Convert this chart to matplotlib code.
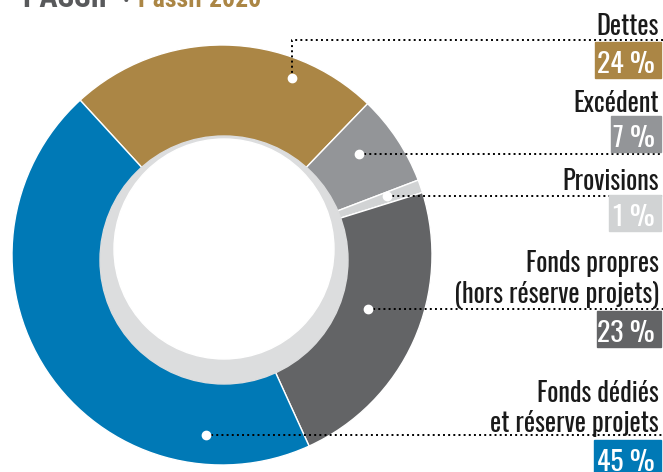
import matplotlib
matplotlib.use('Agg')
import matplotlib.pyplot as plt
from matplotlib.patches import Circle, Rectangle

# Data (Passif 2020)
categories = ['Dettes', 'Excédent', 'Provisions',
              'Fonds propres\n(hors réserve projets)',
              'Fonds dédiés\net réserve projets']
shares = [24, 7, 1, 23, 45]
colors = ['#AB8645', '#939598', '#D1D3D4', '#636466', '#0079B6']

W, H = 663, 472
FONT = ['Oswald', 'Roboto Condensed', 'DejaVu Sans']
TITLE_FONT = ['Roboto Condensed', 'Oswald', 'DejaVu Sans']


def fy(y):
    # image row (from top) -> data y (from bottom)
    return H - y


fig = plt.figure(figsize=(W / 100, H / 100), dpi=100)
ax = fig.add_axes([0, 0, 1, 1])

# Donut
cx, cy, R = 222, 255, 210
ax.pie(shares, colors=colors, center=(cx, fy(cy)), radius=R, startangle=132.5,
       counterclock=False, wedgeprops=dict(width=96, edgecolor='white', linewidth=1))

# Inner light grey ring and white hole (slightly offset, like the original)
ax.add_patch(Circle((224, fy(260)), 124, color='#DCDDDE', zorder=3))
ax.add_patch(Circle((224, fy(249)), 110, color='white', zorder=4))

# Leader dots (in the wedges) and the row of each label on the right
dot_xy = [(292, 78), (359, 154), (387, 196), (368, 309), (206, 435)]
line_y = [40, 154, 196, 309, 435]
for (dx, dy), ly in zip(dot_xy, line_y):
    ax.plot([dx, dx, W], [fy(dy), fy(ly), fy(ly)], color='black', linestyle=':',
            linewidth=1.4, zorder=5)
    ax.plot(dx, fy(dy), 'o', color='white', markersize=6, zorder=6)

# Category names (baseline of each line) and percentage boxes
name_base = [[35], [112], [190], [272, 303], [402, 432]]
box_top = [42, 116, 195, 311, 440]
box_left = [595, 611, 609, 597, 594]
box_h = 36
for name, share, col, bases, top, left in zip(categories, shares, colors,
                                              name_base, box_top, box_left):
    for line, b in zip(name.split('\n'), bases):
        ax.text(659, fy(b), line, ha='right', va='baseline', fontsize=19,
                family=FONT, fontweight='light', color='#1A1A1A', zorder=7)
    ax.add_patch(Rectangle((left, fy(top + box_h)), 661 - left, box_h,
                           color=col, zorder=7))
    ax.text(655, fy(top + box_h - 5), f'{share} %', ha='right', va='baseline',
            fontsize=20, family=FONT, fontweight='light', color='white', zorder=8)

# Title (cut off at the top of the picture)
ax.text(22, fy(7), 'PASSIF', ha='left', va='baseline', fontsize=22,
        fontweight='bold', family=TITLE_FONT, color='#58595B')
ax.text(123, fy(7), '•', ha='left', va='baseline', fontsize=14,
        family=TITLE_FONT, color='#58595B')
ax.text(138, fy(7), 'Passif 2020', ha='left', va='baseline', fontsize=18.5,
        fontweight='bold', family=TITLE_FONT, color='#AB8645')

ax.set_xlim(0, W)
ax.set_ylim(0, H)
ax.set_aspect('equal')
ax.axis('off')

fig.savefig('out.png', dpi=100)
